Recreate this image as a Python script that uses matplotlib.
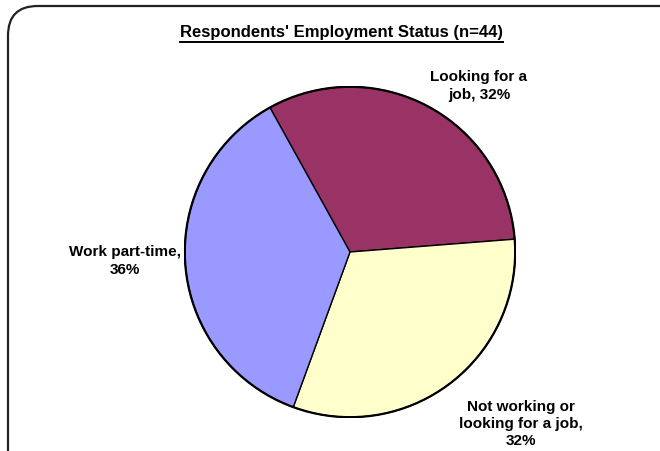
import matplotlib
matplotlib.use("Agg")
import matplotlib.pyplot as plt
from matplotlib.patches import FancyBboxPatch, Circle
from matplotlib.lines import Line2D

plt.rcParams['font.family'] = ['Liberation Sans', 'DejaVu Sans']

title = "Respondents' Employment Status (n=44)"
categories = ["Looking for a\njob", "Not working or\nlooking for a job", "Work part-time"]
counts = [14, 14, 16]
colors = ["#993366", "#FFFFCC", "#9999FF"]

W, H = 660, 451
fig = plt.figure(figsize=(W / 100, H / 100), dpi=100)
fig.patch.set_facecolor("white")

# rounded chart-area frame (runs past the right and bottom edges)
frame = FancyBboxPatch((8 / W, -0.3), 1.3, (H - 6) / H + 0.3,
                       boxstyle="round,pad=0,rounding_size=0.045",
                       transform=fig.transFigure, fill=False,
                       edgecolor="#222222", linewidth=1.6, mutation_aspect=W / H)
fig.patches.append(frame)

def px(x, y):
    return x / W, 1 - y / H

# pie axes: centre (350, 252), radius 166 px
cx, cy, r = 350, 252, 166
ax = fig.add_axes([(cx - r) / W, (H - cy - r) / H, 2 * r / W, 2 * r / H])

total = sum(counts)
ax.pie(counts, colors=colors, startangle=119, counterclock=False, radius=1,
       wedgeprops=dict(edgecolor="black", linewidth=1.0))
ax.add_patch(Circle((0, 0), 1, fill=False, edgecolor="black", linewidth=1.6))
ax.set_xlim(-1.005, 1.005)
ax.set_ylim(-1.005, 1.005)
ax.set_aspect("equal")
ax.axis("off")

pcts = [f"{round(100 * v / total)}%" for v in counts]
labels = [f"{categories[0]}, {pcts[0]}",
          f"{categories[1]},\n{pcts[1]}",
          f"{categories[2]},\n{pcts[2]}"]
label_pos = [(479, 86), (521, 424), (125, 261)]
for lab, (x, y) in zip(labels, label_pos):
    fig.text(*px(x, y), lab, ha="center", va="center", fontsize=11,
             fontweight="bold", linespacing=1.3)

t = fig.text(*px(341.5, 33), title, ha="center", va="center", fontsize=12,
             fontweight="bold")
fig.canvas.draw()
bb = t.get_window_extent()
fx0, fx1 = bb.x0 / W, bb.x1 / W
fy = bb.y0 / H - 1.0 / H
fig.add_artist(Line2D([fx0, fx1], [fy, fy], transform=fig.transFigure,
                      color="black", linewidth=1.4))

fig.savefig("out.png", dpi=100)
